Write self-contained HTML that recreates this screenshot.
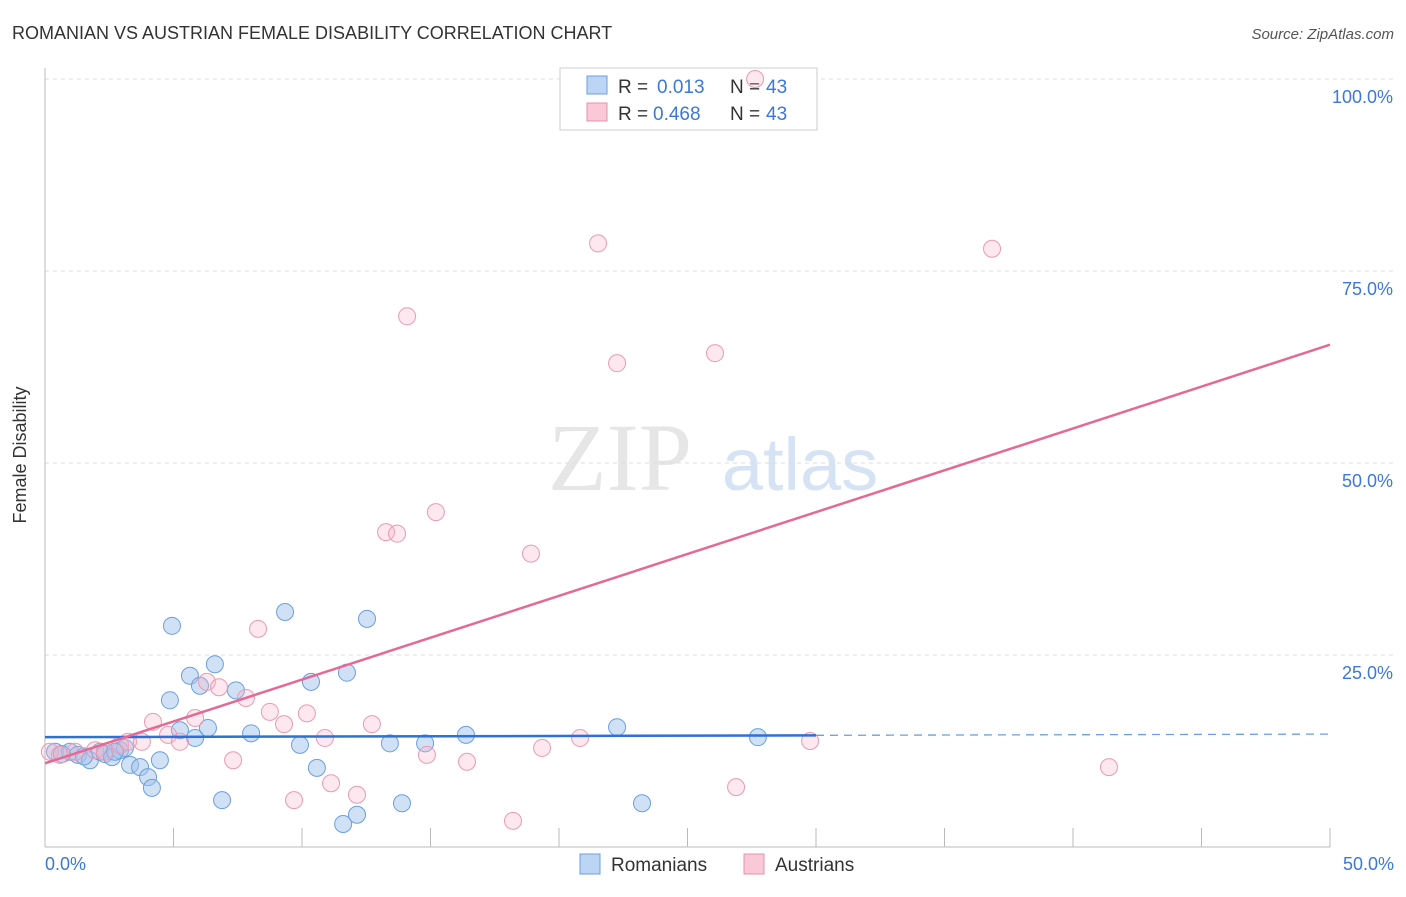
<!DOCTYPE html>
<html><head><meta charset="utf-8"><style>
body{margin:0;background:#fff;font-family:"Liberation Sans",sans-serif}
</style></head><body>
<svg width="1406" height="892" viewBox="0 0 1406 892" xmlns="http://www.w3.org/2000/svg" font-family="Liberation Sans, sans-serif">
<text x="12" y="39" font-size="18" fill="#333">ROMANIAN VS AUSTRIAN FEMALE DISABILITY CORRELATION CHART</text>
<text x="1394" y="39" font-size="15" fill="#555" font-style="italic" text-anchor="end">Source: ZipAtlas.com</text>
<text x="620" y="490" font-size="96" fill="#e6e6e6" font-family="Liberation Serif, serif" text-anchor="middle">ZIP</text>
<text x="800" y="490" font-size="74" fill="#d6e3f5" text-anchor="middle">atlas</text>
<g id="grid"></g><g id="axes"></g>
<g>
<rect x="560" y="68" width="257" height="62" fill="#fff" stroke="#ccc"/>
<rect x="587" y="76" width="20" height="18" fill="#bcd5f5" stroke="#6a9fe0"/>
<text x="618" y="93" font-size="19" fill="#333">R = </text><text x="657" y="93" font-size="19" fill="#3b78d8">0.013</text>
<text x="730" y="93" font-size="19" fill="#333">N = </text><text x="766" y="93" font-size="19" fill="#3b78d8">43</text>
<rect x="587" y="103" width="20" height="18" fill="#f9c9d7" stroke="#e890ab"/>
<text x="618" y="120" font-size="19" fill="#333">R = </text><text x="653" y="120" font-size="19" fill="#3b78d8">0.468</text>
<text x="730" y="120" font-size="19" fill="#333">N = </text><text x="766" y="120" font-size="19" fill="#3b78d8">43</text>
</g>
<g id="pts"></g><g id="lines"></g>
<text x="26" y="455" font-size="18" fill="#333" transform="rotate(-90 26 455)" text-anchor="middle">Female Disability</text>
<text x="45" y="870" font-size="18" fill="#3b78d8">0.0%</text>
<text x="1394" y="870" font-size="18" fill="#3b78d8" text-anchor="end">50.0%</text>
<g>
<rect x="580" y="854" width="20" height="20" fill="#bcd5f5" stroke="#6a9fe0"/>
<text x="611" y="871" font-size="19" fill="#333">Romanians</text>
<rect x="744" y="854" width="20" height="20" fill="#f9c9d7" stroke="#e890ab"/>
<text x="775" y="871" font-size="19" fill="#333">Austrians</text>
</g>
</svg>
<script>
const blueX=[0.39,0.97,1.28,1.75,2.14,2.33,2.61,2.92,3.11,3.31,3.70,4.01,4.16,4.47,4.94,4.86,5.25,5.64,5.84,6.03,6.34,6.61,6.89,7.43,8.02,9.34,9.92,10.35,10.58,11.60,11.75,12.14,12.53,13.42,13.89,14.79,16.38,22.26,23.23,27.74,0.66,1.52,2.72];
const blueY=[12.4,12.4,12.0,11.3,12.4,12.1,11.7,12.6,12.9,10.7,10.4,9.1,7.7,11.3,28.8,19.1,15.2,22.3,14.2,21.0,15.5,23.8,6.1,20.4,14.8,30.6,13.3,21.5,10.3,3.0,22.7,4.2,29.7,13.5,5.7,13.5,14.6,15.6,5.7,14.3,12.1,11.8,12.4];
const pinkX=[0.19,0.58,1.17,1.95,2.33,2.92,3.23,3.77,4.20,4.79,5.25,5.84,6.30,6.77,7.32,7.82,8.29,8.75,9.30,9.69,10.19,10.89,11.13,12.14,12.72,13.27,13.70,14.09,14.86,15.21,16.42,18.21,18.91,19.34,20.82,21.52,22.26,26.07,26.89,27.63,29.77,36.85,41.40];
const pinkY=[12.4,12.0,12.4,12.6,12.4,13.3,13.7,13.7,16.3,14.6,13.7,16.8,21.5,20.8,11.3,19.4,28.4,17.6,16.0,6.1,17.4,14.2,8.3,6.8,16.0,41.0,40.8,69.1,12.0,43.6,11.1,3.4,38.2,12.9,14.2,78.6,63.0,64.3,7.8,100.0,13.8,77.9,10.4];
const yTicks=[25,50,75,100];
const blueTrend=[14.3,14.7];
const pinkTrend=[10.9,65.4];
const NS='http://www.w3.org/2000/svg';
const X=v=>45+v*25.7, Y=v=>847-v*7.68;
function mk(t,a,p){const e=document.createElementNS(NS,t);for(const k in a)e.setAttribute(k,a[k]);document.getElementById(p).appendChild(e);return e;}
yTicks.forEach(t=>{
 const l=mk('line',{x1:45,x2:1394,y1:Y(t),y2:Y(t),stroke:'#ddd','stroke-dasharray':'4,4'},'grid');
 
 
 const s=mk('text',{x:1393,y:Y(t)+24,'font-size':18,fill:'#3b78d8','text-anchor':'end'},'grid');
 s.textContent=t.toFixed(1)+'%';
 
 
});
const ax=mk('line',{x1:45,x2:1330,y1:847,y2:847,stroke:'#bbb'},'axes');


const ay=mk('line',{x1:45,x2:45,y1:68,y2:847,stroke:'#bbb'},'axes');


for(let i=1;i<=10;i++){const t=mk('line',{x1:X(i*5),x2:X(i*5),y1:828,y2:847,stroke:'#bbb'},'axes');
 
 }
blueX.forEach((x,i)=>{const c=mk('circle',{cx:X(x),cy:Y(blueY[i]),r:8.5,fill:'rgba(164,196,236,0.5)',stroke:'#6a9fe0','stroke-width':1},'pts');
 
 });
pinkX.forEach((x,i)=>{const c=mk('circle',{cx:X(x),cy:Y(pinkY[i]),r:8.5,fill:'rgba(246,180,200,0.3)',stroke:'#eb9ab2','stroke-width':1},'pts');
 
 });
const bAt=x=>blueTrend[0]+(blueTrend[1]-blueTrend[0])*x/50;
const b1=mk('line',{x1:X(0),y1:Y(bAt(0)),x2:X(30),y2:Y(bAt(30)),stroke:'#2f6fd6','stroke-width':2.5},'lines');


const b2=mk('line',{x1:X(30),y1:Y(bAt(30)),x2:X(50),y2:Y(bAt(50)),stroke:'#6a9fe0','stroke-width':1.3,'stroke-dasharray':'8,6'},'lines');


const p=mk('line',{x1:X(0),y1:Y(pinkTrend[0]),x2:X(50),y2:Y(pinkTrend[1]),stroke:'#e46a95','stroke-width':2.5},'lines');


</script>
</body></html>
